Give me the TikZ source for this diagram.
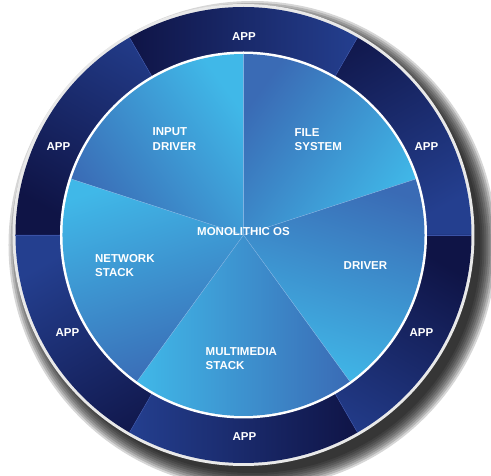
\documentclass[tikz,border=0pt]{standalone}
\usepackage{fontspec}
\setmainfont{Liberation Sans}
\definecolor{ringdark}{HTML}{0F1446}
\definecolor{ringblue}{HTML}{243F8F}
\definecolor{ringline}{HTML}{3A52A6}
\definecolor{pielight}{HTML}{40B8E8}
\definecolor{piedark}{HTML}{3A6BB5}
\definecolor{pieline}{HTML}{7FB2E2}
\definecolor{rimgray}{HTML}{E9E9E9}

\begin{document}
\begin{tikzpicture}[x=1pt,y=1pt,
  txt/.style={text=white,font=\fontsize{11.5}{14.5}\selectfont\bfseries,inner sep=0pt},
  seg/.style={top color=ringblue,bottom color=ringdark},
  slice/.style={top color=pielight,bottom color=piedark}]
\useasboundingbox (-243.5,-241) rectangle (247.5,235);
\coordinate (o) at (0,0);
% shadow
\foreach \r in {228,230,...,244}
  \fill[black,opacity=0.16] (9,-10) circle[radius=\r pt];
\fill[rimgray] (o) circle[radius=231pt];
% app ring
\shade[seg,shading angle=-150](o)--(0:228pt) arc[start angle=0,end angle=60,radius=228pt]--cycle;
\shade[seg,shading angle=-90](o)--(60:228pt) arc[start angle=60,end angle=120,radius=228pt]--cycle;
\shade[seg,shading angle=-30](o)--(120:228pt) arc[start angle=120,end angle=180,radius=228pt]--cycle;
\shade[seg,shading angle=30](o)--(180:228pt) arc[start angle=180,end angle=240,radius=228pt]--cycle;
\shade[seg,shading angle=90](o)--(240:228pt) arc[start angle=240,end angle=300,radius=228pt]--cycle;
\shade[seg,shading angle=150](o)--(300:228pt) arc[start angle=300,end angle=360,radius=228pt]--cycle;
\foreach \a in {0,60,...,300}
  \draw[ringline,line width=0.5pt](\a:183pt)--(\a:228pt);
\fill[white] (o) circle[radius=183.5pt];
% os pie
\shade[slice,shading angle=-126](o)--(18:181pt) arc[start angle=18,end angle=90,radius=181pt]--cycle;
\shade[slice,shading angle=-54](o)--(90:181pt) arc[start angle=90,end angle=162,radius=181pt]--cycle;
\shade[slice,shading angle=18](o)--(162:181pt) arc[start angle=162,end angle=234,radius=181pt]--cycle;
\shade[slice,shading angle=90](o)--(234:181pt) arc[start angle=234,end angle=306,radius=181pt]--cycle;
\shade[slice,shading angle=162](o)--(306:181pt) arc[start angle=306,end angle=378,radius=181pt]--cycle;
\foreach \a in {18,90,162,234,306}
  \draw[pieline,line width=0.4pt](o)--(\a:181pt);
% labels
\node[txt] (os) at (0,3.5) {MONOLITHIC OS};
\node[txt,align=left,anchor=west] (input) at (-91,96) {INPUT\\DRIVER};
\node[txt,align=left,anchor=west] (files) at (51,95.5) {FILE\\SYSTEM};
\node[txt,align=left,anchor=west] (net) at (-148.5,-30.5) {NETWORK\\STACK};
\node[txt,anchor=west] (drv) at (100,-30.5) {DRIVER};
\node[txt,align=left,anchor=west] (media) at (-38,-123.5) {MULTIMEDIA\\STACK};
\node[txt] (app1) at (0.5,198) {APP};
\node[txt] (app2) at (183,88) {APP};
\node[txt] (app3) at (-185,88) {APP};
\node[txt] (app4) at (-176,-98) {APP};
\node[txt] (app5) at (178,-98) {APP};
\node[txt] (app6) at (1,-201.5) {APP};
\end{tikzpicture}
\end{document}
